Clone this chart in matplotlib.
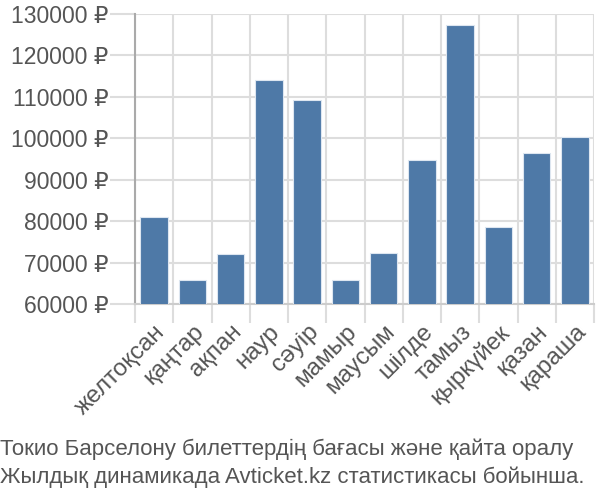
import numpy as np
import matplotlib.pyplot as plt

months = ["желтоқсан", "қаңтар", "ақпан", "наур", "сәуір", "мамыр",
          "маусым", "шілде", "тамыз", "қыркүйек", "қазан", "қараша"]
prices = [81000, 65800, 72100, 114000, 109200, 65800,
          72200, 94700, 127300, 78700, 96400, 100200]
yticks = [60000, 70000, 80000, 90000, 100000, 110000, 120000, 130000]
title = ("Токио Барселону билеттердің бағасы және қайта оралу\n"
         "Жылдық динамикада Avticket.kz статистикасы бойынша.")

plt.rcParams['font.family'] = ['Liberation Sans', 'DejaVu Sans']

fig = plt.figure(figsize=(6, 5), dpi=100)
ax = fig.add_axes([0.225, 0.392, 0.765, 0.58])

x = np.arange(len(months))
ax.bar(x, prices, width=0.72, color="#4e79a7", edgecolor="#dde6f0",
       linewidth=0.8, zorder=3)

ax.set_xlim(-0.5, len(months) - 0.5)
ax.set_ylim(60000, 130000)

ax.set_yticks(yticks)
ax.set_yticklabels([f"{v} ₽" for v in yticks], fontsize=16.5, color="#555555")
ax.set_xticks(x)
ax.set_xticklabels(months, rotation=45, ha="right", rotation_mode="anchor",
                   fontsize=17.5, color="#555555")
ax.set_xticks(np.arange(len(months) + 1) - 0.5, minor=True)

ax.tick_params(axis="x", which="major", length=0, pad=12)
ax.tick_params(axis="x", which="minor", length=14, color="#dddddd", width=1.5)
ax.tick_params(axis="y", length=18, color="#dddddd", width=1.5, pad=1)

ax.grid(True, axis="y", color="#dddddd", linewidth=1.5, zorder=0)
ax.grid(True, axis="x", which="minor", color="#dddddd", linewidth=1.5, zorder=0)

for s in ["top", "right"]:
    ax.spines[s].set_visible(False)
ax.spines["left"].set_color("#aaaaaa")
ax.spines["left"].set_linewidth(1.5)
ax.spines["bottom"].set_color("#cccccc")
ax.spines["bottom"].set_linewidth(1.5)

fig.text(0.0, 0.025, title, fontsize=16, color="#555555",
         linespacing=1.35, va="bottom", ha="left")

fig.savefig("out.png")
